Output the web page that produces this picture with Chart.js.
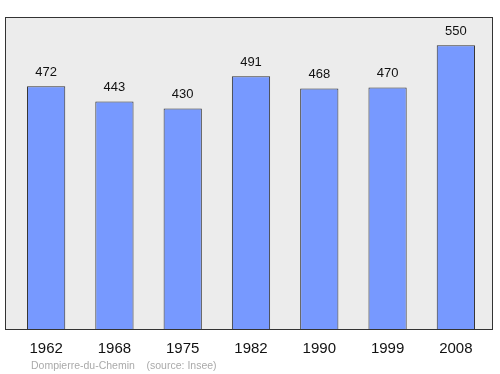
<!DOCTYPE html>
<html>
<head>
<meta charset="utf-8">
<script src="https://cdn.jsdelivr.net/npm/chart.js@4/dist/chart.umd.min.js"></script>
<style>
  body { margin: 0; background: #fff; }
  #wrap { position: relative; width: 500px; height: 374px; }
  #src { position: absolute; left: 31px; top: 359px; font: 10.5px "Liberation Sans", Arial, sans-serif; color: #aaa; white-space: pre; }
</style>
</head>
<body>
<div id="wrap">
  <canvas id="popChart" width="500" height="374"></canvas>
  <div id="src">Dompierre-du-Chemin    (source: Insee)</div>
</div>
<script>
// Census years and population
const years = ['1962', '1968', '1975', '1982', '1990', '1999', '2008'];
const population = [472, 443, 430, 491, 468, 470, 550];

// grey frame behind the bars
const framePlugin = {
    id: 'frame',
    beforeDraw(chart) {
        const a = chart.chartArea, c = chart.ctx;
        c.save();
        c.fillStyle = '#ececec';
        c.fillRect(a.left - 7, a.top, a.right - a.left + 10, a.bottom - a.top);
        c.strokeStyle = '#333';
        c.lineWidth = 1;
        c.strokeRect(a.left - 6.5, a.top + 0.5, a.right - a.left + 9, a.bottom - a.top);
        c.restore();
    }
};

// value above each bar
const valuePlugin = {
    id: 'values',
    afterDatasetsDraw(chart) {
        const c = chart.ctx;
        const meta = chart.getDatasetMeta(0);
        c.save();
        c.font = '13px "Liberation Sans", Arial, sans-serif';
        c.fillStyle = '#111';
        c.textAlign = 'center';
        c.textBaseline = 'middle';
        meta.data.forEach((bar, i) => {
            c.fillText(population[i], bar.x, bar.y - 14);
        });
        c.restore();
    }
};

new Chart(document.getElementById('popChart').getContext('2d'), {
    type: 'bar',
    data: {
        labels: years,
        datasets: [{
            data: population,
            backgroundColor: '#7799ff',
            borderColor: '#333',
            borderWidth: 1,
            categoryPercentage: 1,
            barPercentage: 0.56
        }]
    },
    options: {
        responsive: false,
        animation: false,
        layout: { padding: { left: 12, right: 10, top: 17, bottom: 13 } },
        plugins: { legend: { display: false }, tooltip: { enabled: false } },
        scales: {
            x: {
                grid: { display: false },
                border: { display: false },
                ticks: {
                    padding: 3,
                    color: '#111',
                    font: { family: '"Liberation Sans", Arial, sans-serif', size: 15 }
                }
            },
            y: {
                display: false,
                min: 10,
                max: 604
            }
        }
    },
    plugins: [framePlugin, valuePlugin]
});
</script>
</body>
</html>
